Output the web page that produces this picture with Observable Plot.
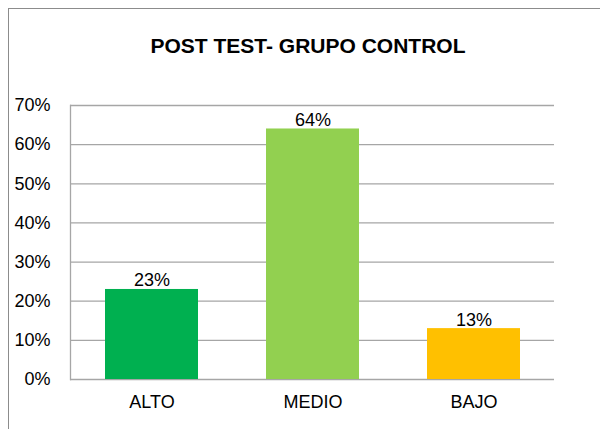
<!DOCTYPE html>
<html>
<head>
<meta charset="utf-8">
<script src="https://cdn.jsdelivr.net/npm/d3@7"></script>
<script src="https://cdn.jsdelivr.net/npm/@observablehq/plot@0.6"></script>
<style>
  html, body { margin: 0; padding: 0; background: #fff; }
  #wrap { position: relative; width: 600px; height: 429px; overflow: hidden; font-family: "Liberation Sans", Arial, sans-serif; }
  #border { position: absolute; left: 8px; top: 8px; width: 620px; height: 440px; border: 1px solid #8c8c8c; box-sizing: border-box; }
  #title { position: absolute; left: 8px; width: 600px; top: 34px; text-align: center; font-weight: bold; font-size: 21px; color: #000; }
  #chart { position: absolute; left: 0; top: 0; }
</style>
</head>
<body>
<div id="wrap">
  <div id="border"></div>
  <div id="chart"></div>
  <div id="title">POST TEST- GRUPO CONTROL</div>
</div>
<script>
const categories = ["ALTO", "MEDIO", "BAJO"];
const values = [23, 64, 13];
const colors = ["#00B050", "#92D050", "#FFC000"];
const yTicks = [0, 10, 20, 30, 40, 50, 60, 70];

const data = categories.map((c, i) => ({cat: c, value: values[i]}));

const chart = Plot.plot({
  width: 600,
  height: 429,
  marginLeft: 70,
  marginRight: 46,
  marginTop: 105,
  marginBottom: 50,
  style: {fontFamily: "Liberation Sans, Arial, sans-serif", fontSize: "18px", color: "#000", background: "transparent"},
  x: {domain: categories, paddingInner: 0.423, paddingOuter: 0.211, label: null},
  y: {domain: [0, 70], label: null},
  color: {domain: categories, range: colors},
  marks: [
    Plot.ruleY(yTicks, {stroke: "#a6a6a6", strokeWidth: 1.3}),
    Plot.barY(data, {x: "cat", y: "value", fill: "cat"}),
    Plot.frame({anchor: "left", stroke: "#a6a6a6", strokeWidth: 1.3}),
    Plot.text(data, {x: "cat", y: "value", text: d => d.value + "%", lineAnchor: "bottom", dy: -3, fontSize: 18, fill: "#000"}),
    Plot.axisY({ticks: yTicks, tickFormat: d => d + "%", tickSize: 0, tickPadding: 20, fontSize: 18, label: null}),
    Plot.axisX({tickSize: 0, tickPadding: 16, fontSize: 18, label: null})
  ]
});
document.getElementById("chart").appendChild(chart);
</script>
</body>
</html>
